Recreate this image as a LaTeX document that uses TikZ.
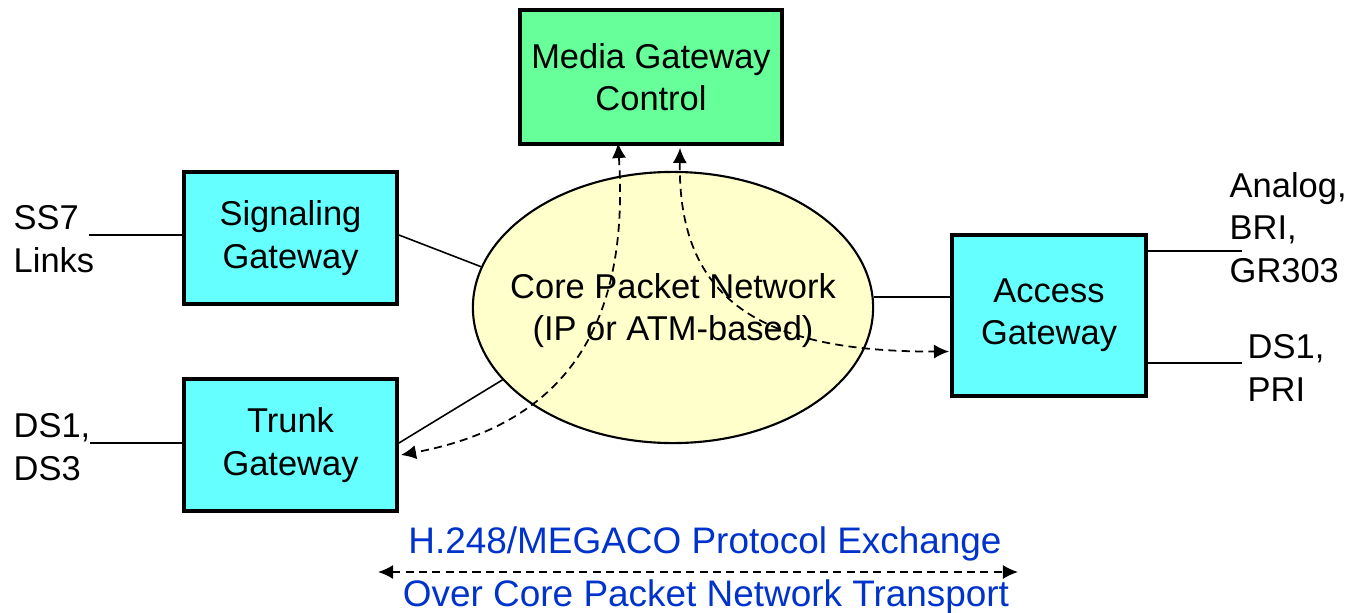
\documentclass[tikz,border=0pt]{standalone}
\usepackage{fontspec}
\setmainfont{Liberation Sans}
\usetikzlibrary{shapes.geometric,arrows.meta,calc}
\definecolor{gwcyan}{HTML}{66FFFF}
\definecolor{mgcgreen}{HTML}{66FF99}
\definecolor{coreyellow}{HTML}{FFFFCC}
\definecolor{protoblue}{HTML}{0033CC}
\begin{document}
\begin{tikzpicture}[x=0.01cm,y=-0.01cm,
  txt/.style={font=\fontsize{9.8}{12}\selectfont},
  box/.style={txt, draw=black, line width=1.05pt, align=center, inner sep=0pt},
  gw/.style={box, fill=gwcyan},
  lbl/.style={txt, align=left, inner sep=0pt, anchor=base west},
  wire/.style={line width=0.45pt},
  tip/.tip={Latex[length=4.3pt,width=4pt]},
  sig/.style={line width=0.5pt, dash pattern=on 2.3pt off 1.5pt, tip-tip},
  proto/.style={anchor=base, inner sep=0pt, text=protoblue, font=\fontsize{10.5}{12.5}\selectfont}
]
\useasboundingbox (0,0) rectangle (1349,612);

% nodes
\node[box, fill=mgcgreen, minimum width=2.62cm, minimum height=1.34cm] (mgc) at (651,77) {Media Gateway\\Control};
\node[gw, minimum width=2.13cm, minimum height=1.32cm] (sg) at (290.5,238) {Signaling\\Gateway};
\node[gw, minimum width=2.13cm, minimum height=1.32cm] (tg) at (290.5,445) {Trunk\\Gateway};
\node[gw, minimum width=1.94cm, minimum height=1.61cm] (ag) at (1049,315.5) {Access\\Gateway};
\node[ellipse, draw=black, fill=coreyellow, line width=0.6pt, minimum width=4cm, minimum height=2.71cm, inner sep=0pt] (core) at (673,307.5) {};

% side labels (anchor = baseline of the last line)
\node[lbl] (ss7) at (13,272) {SS7\\Links};
\node[lbl] (ds13) at (13,480) {DS1,\\DS3};
\node[lbl] (analog) at (1229,282) {Analog,\\BRI,\\GR303};
\node[lbl] (dspri) at (1247,401) {DS1,\\PRI};

% solid connectors
\coordinate (ss7w) at (89,235);
\draw[wire] (ss7w) -- (ss7w -| sg.west);
\coordinate (dsw) at (90,443);
\draw[wire] (dsw) -- (dsw -| tg.west);
\draw[wire] ($(sg.east)+(0,-3)$) -- (core.168);
\draw[wire] ($(tg.east)+(0,-2)$) -- (core.203);
\draw[wire] (core.3) -- (core.3 -| ag.west);
\coordinate (anl) at (1242,251);
\draw[wire] (anl -| ag.east) -- (anl);
\coordinate (pri) at (1242,363);
\draw[wire] (pri -| ag.east) -- (pri);

% dashed protocol arrows
\draw[sig] ($(mgc.south)+(-33,-3)$) .. controls (630,330) and (562,425) .. ($(tg.east)+(2,10)$);
\draw[sig] ($(mgc.south)+(29,2)$) .. controls (678,300) and (760,352) .. ($(ag.west)+(-1,36)$);

% core label (drawn over the dashed arrows, as in the reference)
\node[txt, align=center, inner sep=0pt] (coretxt) at ($(core.center)+(0,3)$) {Core Packet Network\\(IP or ATM-based)};

% bottom legend
\coordinate (legl) at (378,572);
\coordinate (legr) at (1018,572);
\draw[sig] (legl) -- (legr);
\node[proto] (h248) at (705,553) {H.248/MEGACO Protocol Exchange};
\node[proto] (over) at (706,606) {Over Core Packet Network Transport};
\end{tikzpicture}
\end{document}
